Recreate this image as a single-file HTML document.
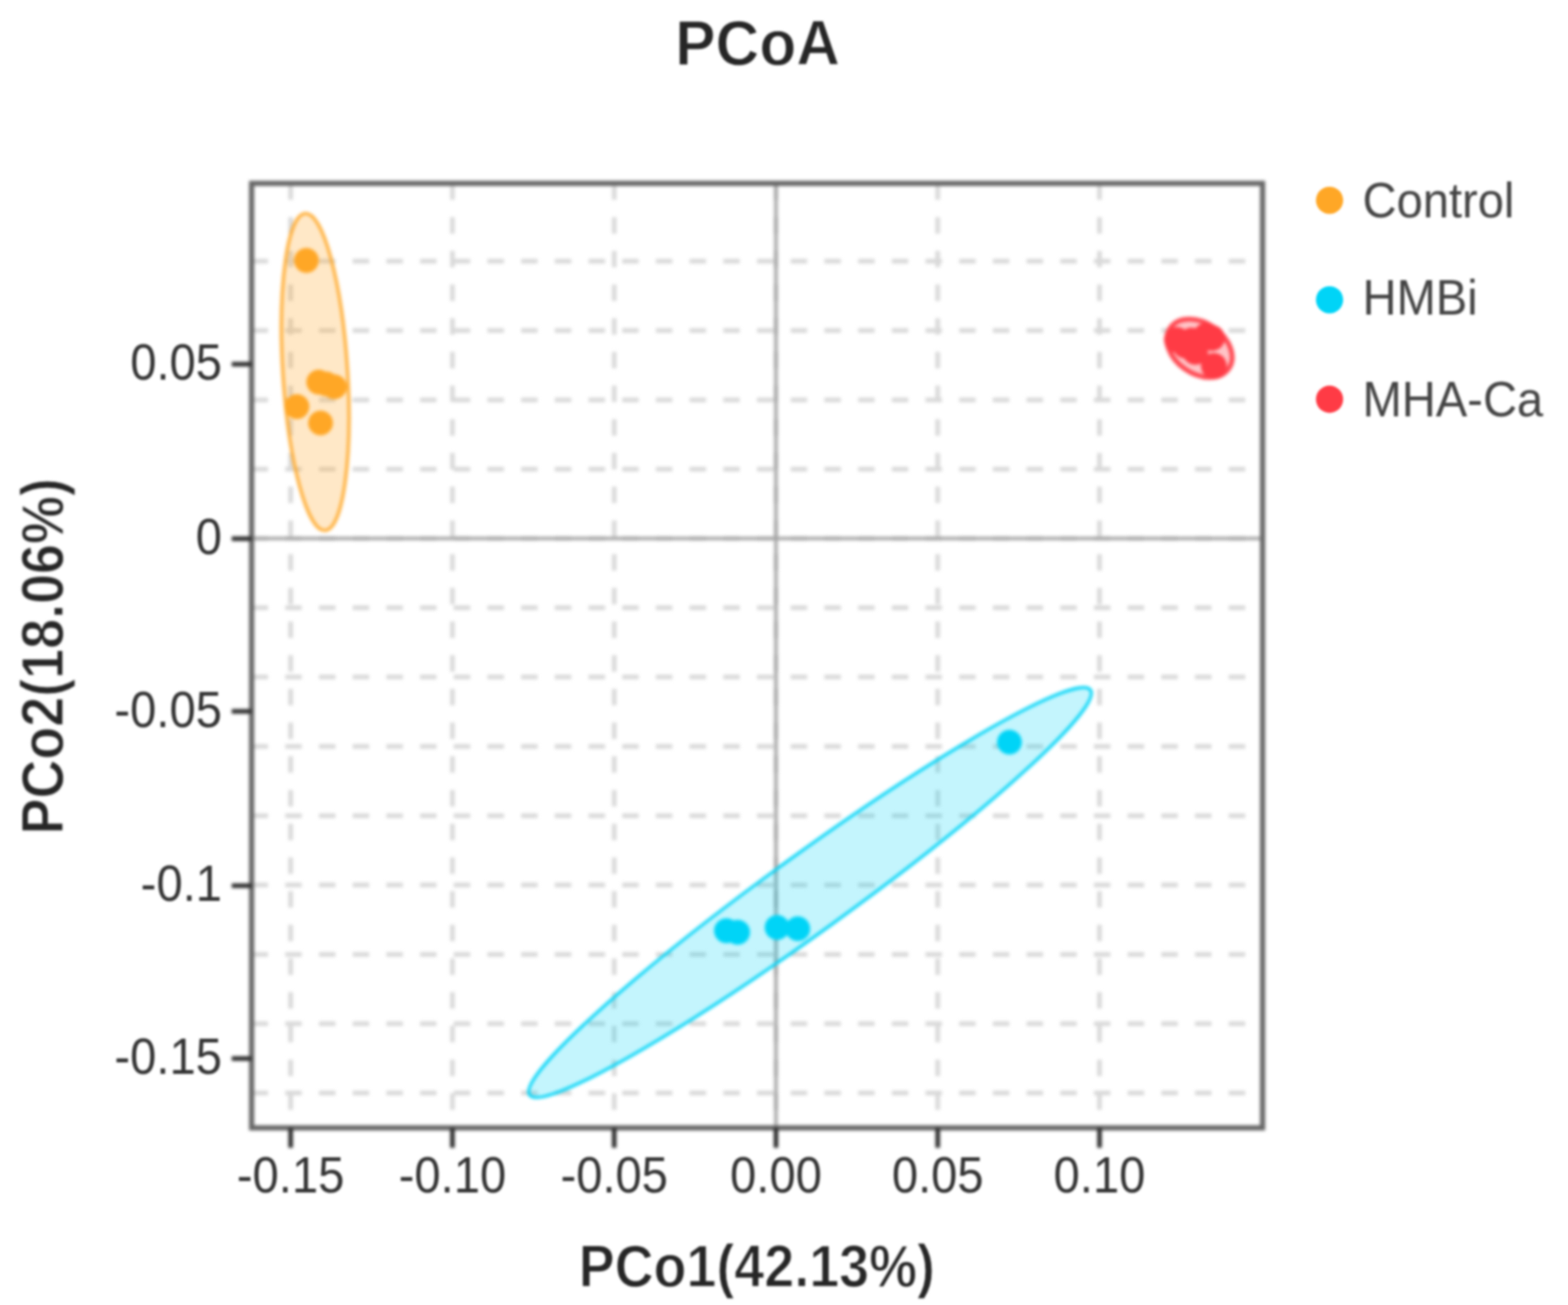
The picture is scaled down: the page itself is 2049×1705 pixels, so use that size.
<!DOCTYPE html>
<html lang="en">
<head>
<meta charset="utf-8">
<title>PCoA</title>
<style>
html,body{margin:0;padding:0;background:#fff;}
body{width:2049px;height:1705px;font-family:"Liberation Sans", Arial, Helvetica, sans-serif;}
svg{display:block;width:2049px;height:1705px;}
text{font-family:"Liberation Sans", Arial, Helvetica, sans-serif;fill:#333;}
.tl{font-size:61.6px;}
.ax{font-size:70.4px;font-weight:bold;fill:#262626;stroke:#fff;stroke-width:1.3px;paint-order:fill stroke;}
.ti{font-size:79.2px;font-weight:bold;fill:#262626;stroke:#fff;stroke-width:1.3px;paint-order:fill stroke;}
.lg{font-size:61.6px;fill:#444;}
</style>
</head>
<body>
<svg width="2049" height="1705" viewBox="0 0 2049 1705" role="img" aria-label="PCoA scatter plot">
<defs>
<filter id="soft" x="-2%" y="-2%" width="104%" height="104%" color-interpolation-filters="sRGB"><feGaussianBlur stdDeviation="2.0"/></filter>
<filter id="softt" x="-2%" y="-2%" width="104%" height="104%" color-interpolation-filters="sRGB"><feGaussianBlur stdDeviation="1.8"/></filter>
</defs>
<rect x="0" y="0" width="2049" height="1705" fill="#ffffff"/>
<g filter="url(#soft)">
<g stroke="#d9d9d9" stroke-width="6.0" stroke-dasharray="21.5 22.53" fill="none">
<line x1="328.8" y1="341.3" x2="1649.9" y2="341.3"/>
<line x1="328.8" y1="431.8" x2="1649.9" y2="431.8"/>
<line x1="328.8" y1="522.4" x2="1649.9" y2="522.4"/>
<line x1="328.8" y1="612.9" x2="1649.9" y2="612.9"/>
<line x1="328.8" y1="703.5" x2="1649.9" y2="703.5"/>
<line x1="328.8" y1="794.1" x2="1649.9" y2="794.1"/>
<line x1="328.8" y1="884.6" x2="1649.9" y2="884.6"/>
<line x1="328.8" y1="975.2" x2="1649.9" y2="975.2"/>
<line x1="328.8" y1="1065.7" x2="1649.9" y2="1065.7"/>
<line x1="328.8" y1="1156.3" x2="1649.9" y2="1156.3"/>
<line x1="328.8" y1="1246.9" x2="1649.9" y2="1246.9"/>
<line x1="328.8" y1="1337.4" x2="1649.9" y2="1337.4"/>
<line x1="328.8" y1="1428.0" x2="1649.9" y2="1428.0"/>
<line x1="379.8" y1="239.6" x2="379.8" y2="1473.6"/>
<line x1="591.2" y1="239.6" x2="591.2" y2="1473.6"/>
<line x1="802.6" y1="239.6" x2="802.6" y2="1473.6"/>
<line x1="1014.0" y1="239.6" x2="1014.0" y2="1473.6"/>
<line x1="1225.4" y1="239.6" x2="1225.4" y2="1473.6"/>
<line x1="1436.8" y1="239.6" x2="1436.8" y2="1473.6"/>
</g>
<g stroke="#a2a2a2" stroke-opacity="0.85" stroke-width="5.2" fill="none">
<line x1="328.8" y1="703.5" x2="1649.9" y2="703.5"/>
<line x1="1014.0" y1="239.6" x2="1014.0" y2="1473.6"/>
</g>
<ellipse cx="411.9" cy="486" rx="42.3" ry="207.5" transform="rotate(-3.59 411.9 486)" fill="#ffa726" fill-opacity="0.26" stroke="#ffa726" stroke-opacity="0.85" stroke-width="4.4"/>
<ellipse cx="1058.5" cy="1166" rx="452.1" ry="50.4" transform="rotate(-35.84 1058.5 1166)" fill="#00d4f7" fill-opacity="0.23" stroke="#00d4f7" stroke-opacity="1" stroke-width="3.8"/>
<ellipse cx="1567.5" cy="455" rx="46.6" ry="33.2" transform="rotate(35 1567.5 455)" fill="#ff3b45" fill-opacity="0.3" stroke="#ff3b45" stroke-opacity="0.9" stroke-width="6.4"/>
<g fill="#ffa726">
<circle cx="400.4" cy="340.2" r="16.2"/>
<circle cx="416.5" cy="499.2" r="16.2"/>
<circle cx="426.5" cy="501.6" r="16.2"/>
<circle cx="437" cy="505.4" r="16.2"/>
<circle cx="388" cy="531.2" r="16.2"/>
<circle cx="418.9" cy="552.6" r="16.2"/>
</g>
<g fill="#00d4f7">
<circle cx="949.3" cy="1216" r="16.2"/>
<circle cx="963.9" cy="1218" r="16.2"/>
<circle cx="1015.5" cy="1211.8" r="16.2"/>
<circle cx="1042.5" cy="1213.4" r="16.2"/>
<circle cx="1319.1" cy="969.6" r="16.2"/>
</g>
<g fill="#ff3b45">
<circle cx="1537.9" cy="444.0" r="16.8"/>
<circle cx="1556.9" cy="444.9" r="16.8"/>
<circle cx="1576.3" cy="438.4" r="16.8"/>
<circle cx="1583.9" cy="441.6" r="16.8"/>
<circle cx="1549.2" cy="451.5" r="16.8"/>
<circle cx="1561.9" cy="459.7" r="16.8"/>
<circle cx="1586.2" cy="478.0" r="16.8"/>
</g>
<rect x="328.8" y="239.6" width="1321.1" height="1234.0" fill="none" stroke="#676767" stroke-width="6.8"/>
<g stroke="#2e2e2e" stroke-width="6.0" fill="none">
<line x1="379.8" y1="1473.6" x2="379.8" y2="1499.6"/>
<line x1="591.2" y1="1473.6" x2="591.2" y2="1499.6"/>
<line x1="802.6" y1="1473.6" x2="802.6" y2="1499.6"/>
<line x1="1014.0" y1="1473.6" x2="1014.0" y2="1499.6"/>
<line x1="1225.4" y1="1473.6" x2="1225.4" y2="1499.6"/>
<line x1="1436.8" y1="1473.6" x2="1436.8" y2="1499.6"/>
<line x1="302.8" y1="475.8" x2="328.8" y2="475.8"/>
<line x1="302.8" y1="703.8" x2="328.8" y2="703.8"/>
<line x1="302.8" y1="929.4" x2="328.8" y2="929.4"/>
<line x1="302.8" y1="1157.2" x2="328.8" y2="1157.2"/>
<line x1="302.8" y1="1383.0" x2="328.8" y2="1383.0"/>
</g>
</g>
<g filter="url(#softt)">
<text class="tl" transform="translate(379.8 1557.8) scale(1 1.07)" text-anchor="middle">-0.15</text>
<text class="tl" transform="translate(591.2 1557.8) scale(1 1.07)" text-anchor="middle">-0.10</text>
<text class="tl" transform="translate(802.6 1557.8) scale(1 1.07)" text-anchor="middle">-0.05</text>
<text class="tl" transform="translate(1014.0 1557.8) scale(1 1.07)" text-anchor="middle">0.00</text>
<text class="tl" transform="translate(1225.4 1557.8) scale(1 1.07)" text-anchor="middle">0.05</text>
<text class="tl" transform="translate(1436.8 1557.8) scale(1 1.07)" text-anchor="middle">0.10</text>
<text class="tl" transform="translate(290 496.0) scale(1 1.07)" text-anchor="end">0.05</text>
<text class="tl" transform="translate(290 724.0) scale(1 1.07)" text-anchor="end">0</text>
<text class="tl" transform="translate(290 949.6) scale(1 1.07)" text-anchor="end">-0.05</text>
<text class="tl" transform="translate(290 1177.4) scale(1 1.07)" text-anchor="end">-0.1</text>
<text class="tl" transform="translate(290 1403.2) scale(1 1.07)" text-anchor="end">-0.15</text>
<text class="ti" transform="translate(990 85) scale(1 1.05)" text-anchor="middle">PCoA</text>
<text class="ax" transform="translate(989 1681) scale(1 1.10)" text-anchor="middle">PCo1(42.13%)</text>
<text class="ax" transform="translate(82 857.5) rotate(-90) scale(1 1.10)" text-anchor="middle">PCo2(18.06%)</text>
<circle cx="1737.4" cy="261.7" r="17.8" fill="#ffa726"/>
<text class="lg" transform="translate(1780.5 284.0) scale(1 1.06)">Control</text>
<circle cx="1737.4" cy="391.7" r="17.8" fill="#00d4f7"/>
<text class="lg" transform="translate(1780.5 411.0) scale(1 1.06)">HMBi</text>
<circle cx="1737.4" cy="521.6" r="17.8" fill="#ff3b45"/>
<text class="lg" transform="translate(1780.5 543.8) scale(1 1.06)">MHA-Ca</text>
</g>
</svg>
</body>
</html>
